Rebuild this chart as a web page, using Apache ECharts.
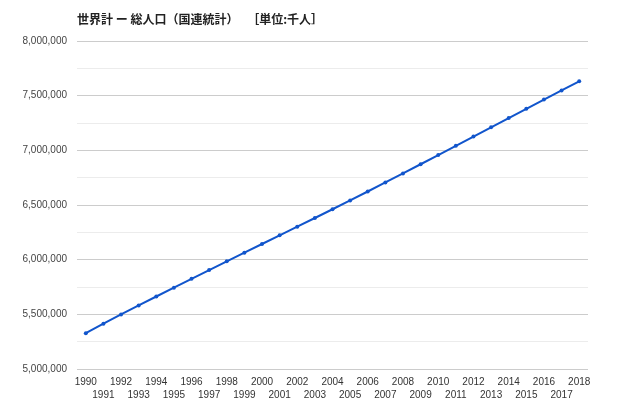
<!DOCTYPE html>
<html><head><meta charset="utf-8">
<script src="https://cdn.jsdelivr.net/npm/echarts@6/dist/echarts.min.js"></script>
<style>html,body{margin:0;padding:0;background:#fff}#c{width:640px;height:411px}</style>
</head><body><div id="c"></div>
<script>
const years = ['1990','1991','1992','1993','1994','1995','1996','1997','1998','1999','2000','2001','2002','2003','2004','2005','2006','2007','2008','2009','2010','2011','2012','2013','2014','2015','2016','2017','2018'];
const population = [5327231,5414289,5498920,5581598,5663150,5744213,5824892,5905046,5984794,6064239,6143494,6222627,6301773,6381185,6461159,6541907,6623518,6705947,6789089,6872767,6956824,7041194,7125828,7210582,7295291,7379797,7464022,7547859,7631091];
const titleText = '世界計 ー 総人口（国連統計）　 ［単位:千人］';

const chart = echarts.init(document.getElementById('c'));
chart.setOption({
  animation: false,
  title: { text: titleText, left: 72, top: 8, textStyle: { fontSize: 12, fontWeight: 'bold', color: '#222', fontFamily: 'Noto Sans CJK JP' } },
  grid: { left: 77, right: 52, top: 41, bottom: 42 },
  xAxis: {
    type: 'category', data: years, boundaryGap: true,
    axisLine: { show: false }, axisTick: { show: false },
    axisLabel: { interval: 0, fontSize: 10, color: '#333', margin: 7, fontFamily: 'Liberation Sans',
      formatter: (v, i) => i % 2 === 1 ? '\n' + v : v, lineHeight: 13 }
  },
  yAxis: {
    type: 'value', min: 5000000, max: 8000000, interval: 500000,
    axisLine: { show: false }, axisTick: { show: false },
    axisLabel: { fontSize: 10, color: '#444', margin: 10, fontFamily: 'Liberation Sans',
      formatter: v => v.toLocaleString('en-US') },
    splitLine: { lineStyle: { color: '#cccccc', width: 1 } },
    minorTick: { show: false, splitNumber: 2 },
    minorSplitLine: { show: true, lineStyle: { color: '#ececec', width: 1 } }
  },
  series: [{
    type: 'line', data: population,
    lineStyle: { color: '#1155cc', width: 2 },
    itemStyle: { color: '#1155cc' },
    symbol: 'circle', symbolSize: 4, showSymbol: true
  }]
});
</script></body></html>
